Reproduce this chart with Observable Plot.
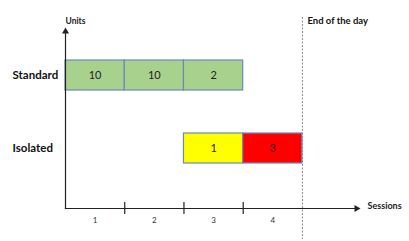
<!DOCTYPE html>
<html>
<head>
<meta charset="utf-8">
<script src="https://cdn.jsdelivr.net/npm/d3@7"></script>
<script src="https://cdn.jsdelivr.net/npm/@observablehq/plot@0.6"></script>
<style>
  html, body { margin: 0; padding: 0; background: #fff; }
  svg { font-family: Lato, "Open Sans", sans-serif; }
</style>
</head>
<body>
<div id="chart"></div>
<script>
// ---- data ----
const rows = ["Standard", "Isolated"];
const sessionLabels = ["1", "2", "3", "4"];
const sessionTicks = [1, 2, 3];
const endOfDay = 4;
const taskRow = ["Standard", "Standard", "Standard", "Isolated", "Isolated"];
const taskSession = [1, 2, 3, 3, 4];
const taskUnits = [10, 10, 2, 1, 3];
const taskKind = ["standard", "standard", "standard", "isolated", "late"];
const kinds = ["standard", "isolated", "late"];
const kindColors = ["#a9d18e", "#ffff00", "#ff0000"];

const tasks = taskRow.map((r, i) => ({
  row: r, session: taskSession[i], units: taskUnits[i], kind: taskKind[i]
}));
const labels = sessionLabels.map((s, i) => ({label: s, x: i + 0.5}));

const W = 409, H = 241;
const plot = Plot.plot({
  width: W,
  height: H,
  marginLeft: 65,
  marginRight: 52,
  marginTop: 30,
  marginBottom: 33,
  style: {fontFamily: "Lato, 'Open Sans', sans-serif", background: "#fff"},
  x: {domain: [0, 4.93], axis: null},
  y: {domain: rows, range: [15, 207], padding: 0.5946, axis: null},
  color: {domain: kinds, range: kindColors},
  marks: [
    // end of day dashed line
    Plot.ruleX([endOfDay], {stroke: "#888", strokeDasharray: "2,1.5", strokeWidth: 1, insetTop: -13, insetBottom: -31}),
    // bars
    Plot.barX(tasks, {
      x1: d => d.session - 1, x2: d => d.session, y: "row",
      fill: "kind", stroke: "#6a8bb8", strokeWidth: 1.2, inset: 0
    }),
    Plot.text(tasks, {
      x: d => d.session - 0.5, y: "row", text: d => String(d.units),
      fontSize: 11, fill: "#222"
    }),
    // axes lines
    Plot.frame({anchor: "left", stroke: "#222", strokeWidth: 1.2}),
    Plot.frame({anchor: "bottom", stroke: "#222", strokeWidth: 1.2}),
    Plot.dot([0], {frameAnchor: "top-left", symbol: "triangle", r: 2.6, fill: "#222", stroke: null, dy: 1}),
    Plot.dot([0], {frameAnchor: "bottom-right", symbol: "triangle", r: 2.6, fill: "#222", stroke: null, rotate: 90, dx: -1}),
    // session ticks
    Plot.ruleX(sessionTicks, {stroke: "#222", strokeWidth: 1.2, insetTop: 172, insetBottom: -6}),
    // session labels
    Plot.text(labels, {x: "x", text: "label", frameAnchor: "bottom", dy: 14, fontSize: 8, fill: "#333"}),
    // row labels
    Plot.text(rows, {y: d => d, text: d => d, frameAnchor: "left", textAnchor: "start", dx: -53, fontSize: 11.5, fontWeight: "bold", fill: "#111"}),
    // axis titles
    Plot.text(["Units"], {frameAnchor: "top-left", dy: -13, fontSize: 8.5, fontWeight: "bold", fill: "#222"}),
    Plot.text(["Sessions"], {frameAnchor: "bottom-right", textAnchor: "start", dx: 10, fontSize: 9, fontWeight: "bold", fill: "#222"}),
    Plot.text(["End of the day"], {x: [endOfDay], frameAnchor: "top", textAnchor: "start", dx: 5, dy: -13, fontSize: 9.5, fontWeight: "bold", fill: "#111"})
  ]
});
document.getElementById("chart").appendChild(plot);
</script>
</body>
</html>
